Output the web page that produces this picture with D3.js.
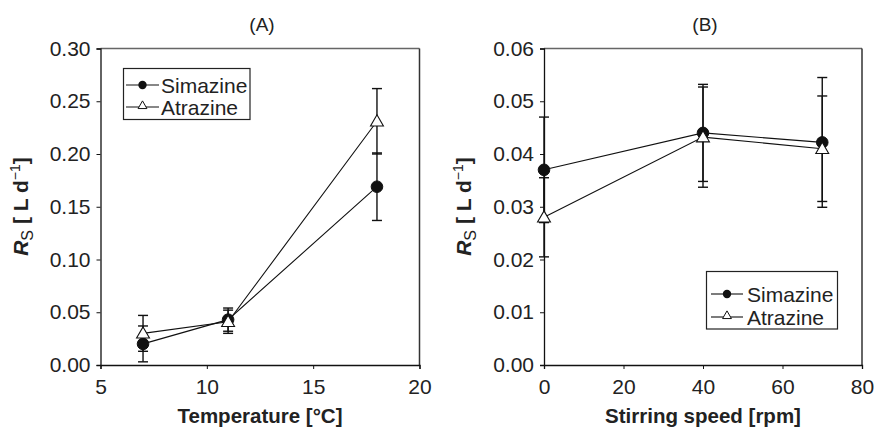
<!DOCTYPE html>
<html>
<head>
<meta charset="utf-8">
<script src="https://cdn.jsdelivr.net/npm/d3@7"></script>
<style>
  html, body { margin: 0; padding: 0; background: #fff; }
  svg { display: block; font-family: "Liberation Sans", Arial, Helvetica, sans-serif; }
</style>
</head>
<body>
<svg id="chart" width="874" height="428"></svg>
<script>
// ---- Data ----
const seriesNames = ["Simazine", "Atrazine"];

// Panel A: temperature
const temperature = [7, 11, 18];
const simazineA = [0.020, 0.043, 0.169];
const simazineAErr = [0.017, 0.011, 0.032];
const atrazineA = [0.030, 0.041, 0.231];
const atrazineAErr = [0.017, 0.011, 0.031];
const ticksAX = [5, 10, 15, 20];
const ticksAY = [0, 0.05, 0.10, 0.15, 0.20, 0.25, 0.30];

// Panel B: stirring speed
const stirring = [0, 40, 70];
const simazineB = [0.037, 0.044, 0.0422];
const simazineBErr = [0.010, 0.0092, 0.0123];
const atrazineB = [0.028, 0.0432, 0.041];
const atrazineBErr = [0.0075, 0.0095, 0.010];
const ticksBX = [0, 20, 40, 60, 80];
const ticksBY = [0, 0.01, 0.02, 0.03, 0.04, 0.05, 0.06];

const svg = d3.select("#chart");

function panel(cfg) {
  const x = d3.scaleLinear().domain(cfg.xDomain).range(cfg.xRange);
  const y = d3.scaleLinear().domain(cfg.yDomain).range([365, 48.5]);
  const g = svg.append("g");

  // frame top / right
  g.append("line").attr("x1", cfg.xRange[0]).attr("x2", cfg.xRange[1])
    .attr("y1", 48.5).attr("y2", 48.5).attr("stroke", "#666").attr("stroke-width", 1.5);
  g.append("line").attr("x1", cfg.xRange[1]).attr("x2", cfg.xRange[1])
    .attr("y1", 48.5).attr("y2", 365).attr("stroke", "#333").attr("stroke-width", 1.5);

  const xAxis = g.append("g").attr("transform", "translate(0,365)")
    .call(d3.axisBottom(x).tickValues(cfg.xTicks).tickSize(4).tickPadding(10).tickFormat(d3.format("d")));
  const yAxis = g.append("g").attr("transform", `translate(${cfg.xRange[0]},0)`)
    .call(d3.axisLeft(y).tickValues(cfg.yTicks).tickSize(4).tickPadding(6).tickFormat(d3.format(".2f")));
  [xAxis, yAxis].forEach(a => {
    a.select(".domain").attr("stroke", "#111").attr("stroke-width", 1.3);
    a.selectAll(".tick line").attr("stroke", "#111");
    a.selectAll(".tick text").attr("fill", "#222").style("font-size", "21px")
      .style("font-family", "'Liberation Sans', Arial, sans-serif");
  });

  // title
  g.append("text").attr("x", (cfg.xRange[0] + cfg.xRange[1]) / 2 + 2).attr("y", 31)
    .attr("text-anchor", "middle").style("font-size", "19px").attr("fill", "#222").text(cfg.title);

  // x axis title
  g.append("text").attr("x", (cfg.xRange[0] + cfg.xRange[1]) / 2).attr("y", 423)
    .attr("text-anchor", "middle").style("font-size", "20.5px").style("font-weight", "bold")
    .attr("fill", "#222").text(cfg.xTitle);

  // y axis title
  const yt = g.append("text")
    .attr("transform", `translate(${cfg.xRange[0] - 73},206.5) rotate(-90)`)
    .attr("text-anchor", "middle").style("font-size", "21px").style("font-weight", "bold")
    .attr("fill", "#222");
  yt.append("tspan").style("font-style", "italic").text("R");
  yt.append("tspan").attr("dy", 5).style("font-size", "16px").style("font-weight", "normal").text("S");
  yt.append("tspan").attr("dy", -5).text(" [ L d");
  yt.append("tspan").attr("dy", -8).style("font-size", "14px").style("font-weight", "normal").text("−1");
  yt.append("tspan").attr("dy", 8).text("]");

  const series = [
    { name: seriesNames[0], vals: cfg.sim, err: cfg.simErr, sym: "circle" },
    { name: seriesNames[1], vals: cfg.atr, err: cfg.atrErr, sym: "triangle" }
  ];
  const line = d3.line().x(d => x(d[0])).y(d => y(d[1]));

  series.forEach(s => {
    const pts = cfg.xs.map((xv, i) => [xv, s.vals[i], s.err[i]]);
    g.append("path").datum(pts).attr("d", line).attr("fill", "none")
      .attr("stroke", "#111").attr("stroke-width", 1.1);
  });
  series.forEach(s => {
    const pts = cfg.xs.map((xv, i) => [xv, s.vals[i], s.err[i]]);
    const eb = g.append("g").attr("stroke", "#111").attr("stroke-width", 1.4);
    pts.forEach(p => {
      const cx = x(p[0]);
      eb.append("line").attr("x1", cx).attr("x2", cx).attr("y1", y(p[1] - p[2])).attr("y2", y(p[1] + p[2]));
      [p[1] - p[2], p[1] + p[2]].forEach(v => {
        eb.append("line").attr("x1", cx - 5).attr("x2", cx + 5).attr("y1", y(v)).attr("y2", y(v));
      });
    });
  });
  series.forEach(s => {
    const pts = cfg.xs.map((xv, i) => [xv, s.vals[i]]);
    if (s.sym === "circle") {
      g.selectAll(null).data(pts).enter().append("circle")
        .attr("cx", d => x(d[0])).attr("cy", d => y(d[1])).attr("r", 5.8)
        .attr("fill", "#111").attr("stroke", "#111");
    } else {
      g.selectAll(null).data(pts).enter().append("path")
        .attr("d", d3.symbol(d3.symbolTriangle, 72))
        .attr("transform", d => `translate(${x(d[0])},${y(d[1]) + 1})`)
        .attr("fill", "#fff").attr("stroke", "#111").attr("stroke-width", 1.1);
    }
  });

  // legend
  const L = cfg.legend;
  const lg = g.append("g");
  lg.append("rect").attr("x", L.x).attr("y", L.y).attr("width", L.w).attr("height", L.h)
    .attr("fill", "#fff").attr("stroke", "#222").attr("stroke-width", 1.2);
  series.forEach((s, i) => {
    const ry = L.rows[i];
    lg.append("line").attr("x1", L.lx1).attr("x2", L.lx2).attr("y1", ry).attr("y2", ry)
      .attr("stroke", "#111").attr("stroke-width", 1.1);
    const mx = (L.lx1 + L.lx2) / 2;
    if (s.sym === "circle") {
      lg.append("circle").attr("cx", mx).attr("cy", ry).attr("r", 4.2).attr("fill", "#111");
    } else {
      lg.append("path").attr("d", d3.symbol(d3.symbolTriangle, 34))
        .attr("transform", `translate(${mx},${ry - 1})`)
        .attr("fill", "#fff").attr("stroke", "#111").attr("stroke-width", 1);
    }
    lg.append("text").attr("x", L.tx).attr("y", ry + 7.5).style("font-size", "21px")
      .attr("fill", "#222").text(s.name);
  });
}

panel({
  xDomain: [5, 20], xRange: [100.5, 419.5], yDomain: [0, 0.30],
  xTicks: ticksAX, yTicks: ticksAY, title: "(A)", xTitle: "Temperature [°C]",
  xs: temperature, sim: simazineA, simErr: simazineAErr, atr: atrazineA, atrErr: atrazineAErr,
  legend: { x: 123.5, y: 68.5, w: 126.5, h: 51, rows: [85, 107], lx1: 126, lx2: 159, tx: 161 }
});

panel({
  xDomain: [0, 80], xRange: [544, 862], yDomain: [0, 0.06],
  xTicks: ticksBX, yTicks: ticksBY, title: "(B)", xTitle: "Stirring speed [rpm]",
  xs: stirring, sim: simazineB, simErr: simazineBErr, atr: atrazineB, atrErr: atrazineBErr,
  legend: { x: 706.5, y: 271.5, w: 131, h: 57.5, rows: [294, 317], lx1: 711, lx2: 743, tx: 747 }
});
</script>
</body>
</html>
